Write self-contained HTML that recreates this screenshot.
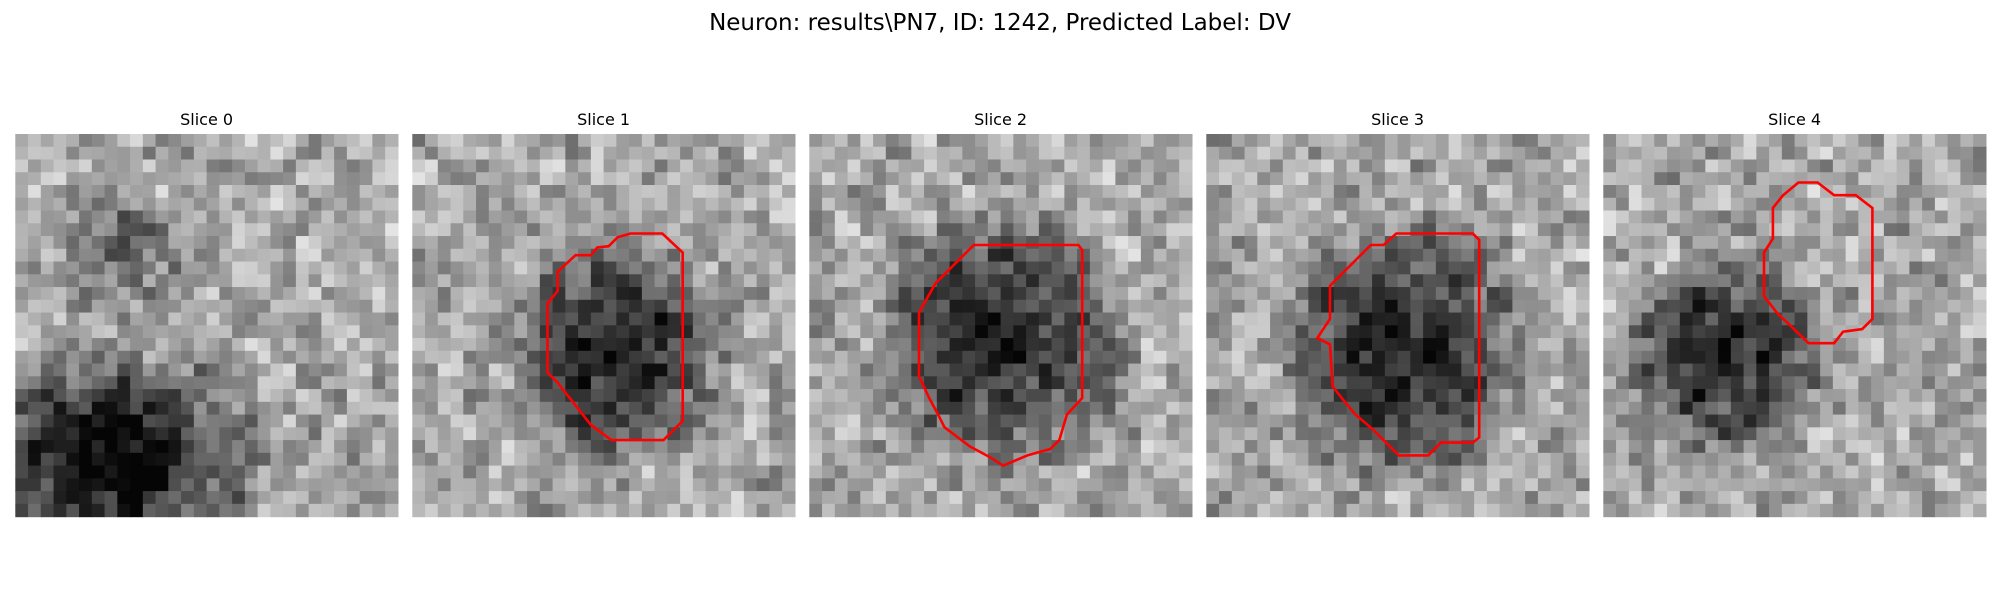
<!DOCTYPE html>
<html><head><meta charset="utf-8"><style>
body{margin:0;background:#fff;width:2000px;height:600px;overflow:hidden;font-family:"Liberation Sans","DejaVu Sans",sans-serif}
</style></head><body>
<svg id="fig" width="2000" height="600" xmlns="http://www.w3.org/2000/svg">
<text x="1000" y="30" text-anchor="middle" font-size="23" font-family="DejaVu Sans, Liberation Sans, sans-serif">Neuron: results\PN7, ID: 1242, Predicted Label: DV</text>
</svg>
<script>
const sliceTitles=["Slice 0","Slice 1","Slice 2","Slice 3","Slice 4"];
// dark blob centers (cell units), radii and strength per slice
const blobX=[[4,12,8],[16],[15],[15.5],[9.5]];
const blobY=[[26,25,9],[17],[16],[17],[17.5]];
const blobR=[[7,6,4],[6.5],[7.5],[7.5],[6]];
const blobA=[[0.45,0.35,0.25],[0.5],[0.5],[0.5],[0.5]];
const contour1=[[11.4,10.8],[12.8,9.5],[14,9.5],[14.5,8.9],[15.4,8.8],[16.1,8.1],[17.1,7.8],[19.6,7.8],[21.2,9.3],[21.2,22.5],[19.7,24],[15.6,24],[14,22.8],[11.4,19.5],[10.6,18.7],[10.6,13.3],[11.4,12.3]];
const contour2=[[12.9,8.7],[21.1,8.7],[21.4,9.1],[21.4,20.7],[20.2,22],[19.6,24],[18.9,24.7],[17.1,25.2],[15.2,26],[14.1,25.3],[12.6,24.5],[10.6,23],[10.1,22],[9.4,20.7],[8.6,19],[8.6,14],[9.9,11.7]];
const contour3=[[14.9,7.8],[20.9,7.8],[21.4,8.3],[21.4,23.8],[20.9,24.2],[18.4,24.2],[17.4,25.2],[15.1,25.2],[13.1,23.2],[11.7,22],[10.7,20.8],[9.9,19.8],[9.7,16.5],[8.7,16],[9.7,14.5],[9.7,11.9],[12.9,8.7],[13.9,8.7]];
const contour4=[[14.1,4.8],[15.3,3.8],[16.8,3.8],[18.1,4.8],[19.8,4.8],[21.1,5.8],[21.1,14.5],[20.3,15.3],[18.8,15.5],[18.1,16.4],[16.1,16.4],[13.6,14],[12.6,12.7],[12.6,9.3],[13.3,8.2],[13.3,5.8]];
const contours=[null,contour1,contour2,contour3,contour4];

const NS="http://www.w3.org/2000/svg";
const svg=document.getElementById('fig');
const N=30,panelW=382.6,panelY=134,cell=panelW/N;
const panelX=[15.3,412.3,809.3,1206.3,1603.3];
function hash(a,b,c){let h=(a*374761393+b*668265263+c*2147483647)>>>0;h=(h^(h>>>13))*1274126177>>>0;return ((h^(h>>>16))>>>0)/4294967295;}
for(let s=0;s<5;s++){
  const g=document.createElementNS(NS,'g');
  
  
  svg.appendChild(g);
  const t=document.createElementNS(NS,'text');
  
  
  t.setAttribute('x',panelX[s]+panelW/2);t.setAttribute('y',125);
  t.setAttribute('text-anchor','middle');t.setAttribute('font-size','16');
  t.setAttribute('font-family','DejaVu Sans, Liberation Sans, sans-serif');
  t.textContent=sliceTitles[s];g.appendChild(t);
  for(let r=0;r<N;r++)for(let c=0;c<N;c++){
    let n=(hash(s+1,r,c)+hash(s+1,r>>1,c>>1)*0.8)/1.8;
    let v=0.66+(n-0.5)*0.5;
    for(let b=0;b<blobX[s].length;b++){
      const d=Math.hypot(c+0.5-blobX[s][b],r+0.5-blobY[s][b])/blobR[s][b];
      if(d<1.5)v-=blobA[s][b]*Math.max(0,1-d*d/2.25);
    }
    v=Math.max(0.02,Math.min(1,v));
    const k=Math.round(v*255);
    const rc=document.createElementNS(NS,'rect');
    rc.setAttribute('x',(panelX[s]+c*cell).toFixed(2));rc.setAttribute('y',(panelY+r*cell).toFixed(2));
    rc.setAttribute('width',(cell+0.6).toFixed(2));rc.setAttribute('height',(cell+0.6).toFixed(2));
    rc.setAttribute('fill',`rgb(${k},${k},${k})`);g.appendChild(rc);
  }
  if(contours[s]){
    const p=document.createElementNS(NS,'polygon');
    
    
    p.setAttribute('points',contours[s].map(q=>(panelX[s]+q[0]*cell).toFixed(1)+','+(panelY+q[1]*cell).toFixed(1)).join(' '));
    p.setAttribute('fill','none');p.setAttribute('stroke','#ff0000');p.setAttribute('stroke-width','2.6');
    g.appendChild(p);
  }
}
</script>
</body></html>
